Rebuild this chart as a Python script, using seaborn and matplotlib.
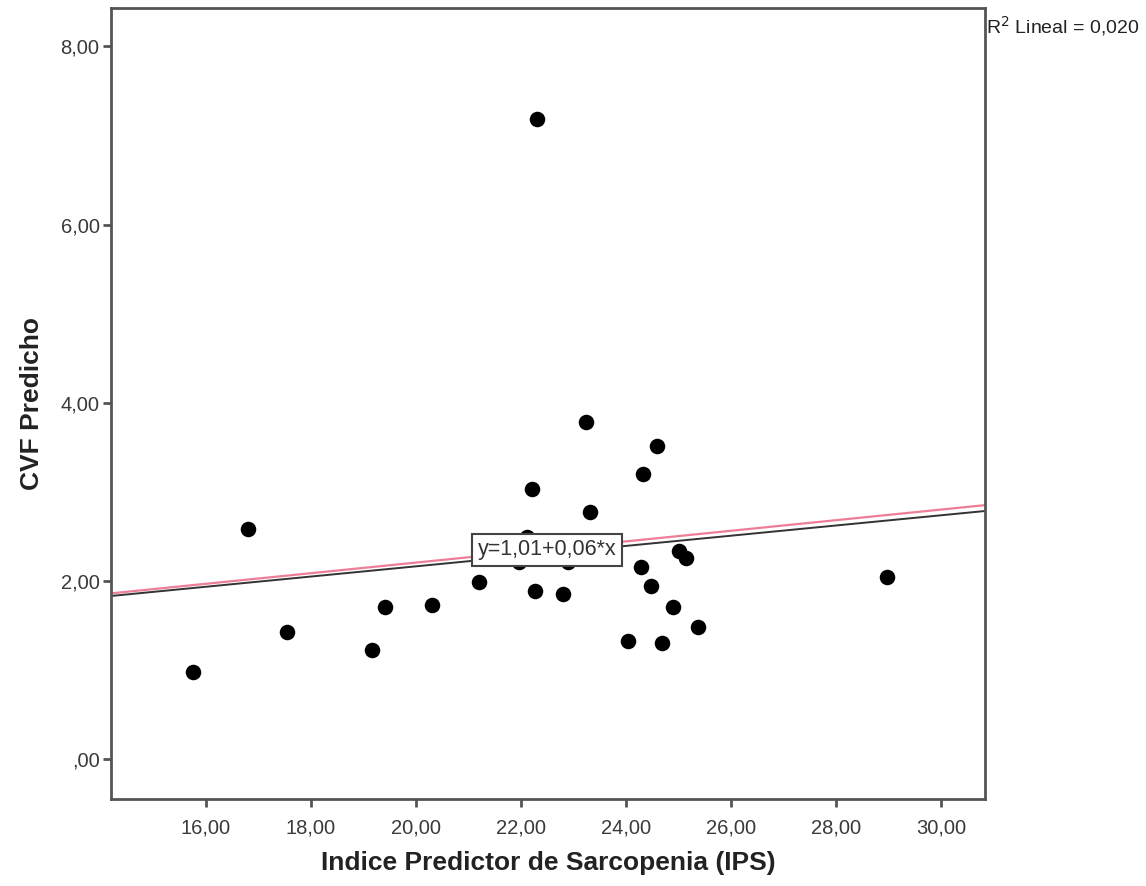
import pandas as pd
import matplotlib
matplotlib.use('Agg')
import matplotlib.pyplot as plt
import seaborn as sns

# Puntos (IPS vs CVF predicho)
ips = [15.77, 16.80, 17.56, 19.17, 19.42, 20.31, 21.21, 22.31, 22.22, 22.28,
       22.80, 23.24, 23.32, 24.04, 24.29, 24.33, 24.48, 24.60, 24.69, 24.90,
       25.02, 25.15, 25.37, 28.97, 22.12, 21.97, 22.90]
cvf = [0.98, 2.58, 1.43, 1.23, 1.71, 1.73, 1.99, 7.18, 3.03, 1.89,
       1.85, 3.78, 2.78, 1.33, 2.16, 3.20, 1.94, 3.51, 1.31, 1.71,
       2.34, 2.26, 1.49, 2.05, 2.49, 2.21, 2.21]

# Lineas de ajuste (intercepto, pendiente)
fit_pink = (1.017, 0.0595)
fit_black = (1.019, 0.0573)

x_ticks = [16, 18, 20, 22, 24, 26, 28, 30]
x_ticklabels = ['16,00', '18,00', '20,00', '22,00', '24,00', '26,00', '28,00', '30,00']
y_ticks = [0, 2, 4, 6, 8]
y_ticklabels = [',00', '2,00', '4,00', '6,00', '8,00']

df = pd.DataFrame({'IPS': ips, 'CVF': cvf})

sns.set_theme(style='white')
plt.rcParams['font.family'] = ['Liberation Sans', 'DejaVu Sans']

fig = plt.figure(figsize=(11.46, 8.86), dpi=100)
ax = fig.add_axes([0.0966, 0.0982, 0.7629, 0.8928])

xlim = (14.195, 30.84)
ylim = (-0.445, 8.43)

# lineas de ajuste
xs = list(xlim)
ax.plot(xs, [fit_pink[0] + fit_pink[1] * v for v in xs], color='#ee7d96', lw=1.6, zorder=2)
ax.plot(xs, [fit_black[0] + fit_black[1] * v for v in xs], color='#333333', lw=1.4, zorder=2)

sns.scatterplot(data=df, x='IPS', y='CVF', color='black', s=125, edgecolor='black',
                linewidth=0, ax=ax, zorder=3)

ax.set_xlim(*xlim)
ax.set_ylim(*ylim)
ax.set_xticks(x_ticks)
ax.set_xticklabels(x_ticklabels)
ax.set_yticks(y_ticks)
ax.set_yticklabels(y_ticklabels)

for s in ax.spines.values():
    s.set_color('#555555')
    s.set_linewidth(2)
ax.tick_params(axis='both', direction='out', length=6, width=2, color='#555555',
               labelsize=14.5, labelcolor='#3a3a3a', bottom=True, left=True)
ax.tick_params(axis='x', pad=8)
ax.tick_params(axis='y', pad=2)

ax.set_xlabel('Indice Predictor de Sarcopenia (IPS)', fontsize=19, fontweight='bold',
              color='#222222', labelpad=10)
ax.set_ylabel('CVF Predicho', fontsize=19, fontweight='bold', color='#222222', labelpad=12)

# caja de la ecuacion
ax.text(22.50, 2.35, 'y=1,01+0,06*x', fontsize=15.5, color='#333333', ha='center', va='center',
        zorder=4, bbox=dict(boxstyle='square,pad=0.25', fc='white', ec='#444444', lw=1.5))

# R2
fig.text(0.8605, 0.971, 'R$^2$ Lineal = 0,020', fontsize=14, color='#222222',
         ha='left', va='center')

plt.savefig('out.png', dpi=100)
